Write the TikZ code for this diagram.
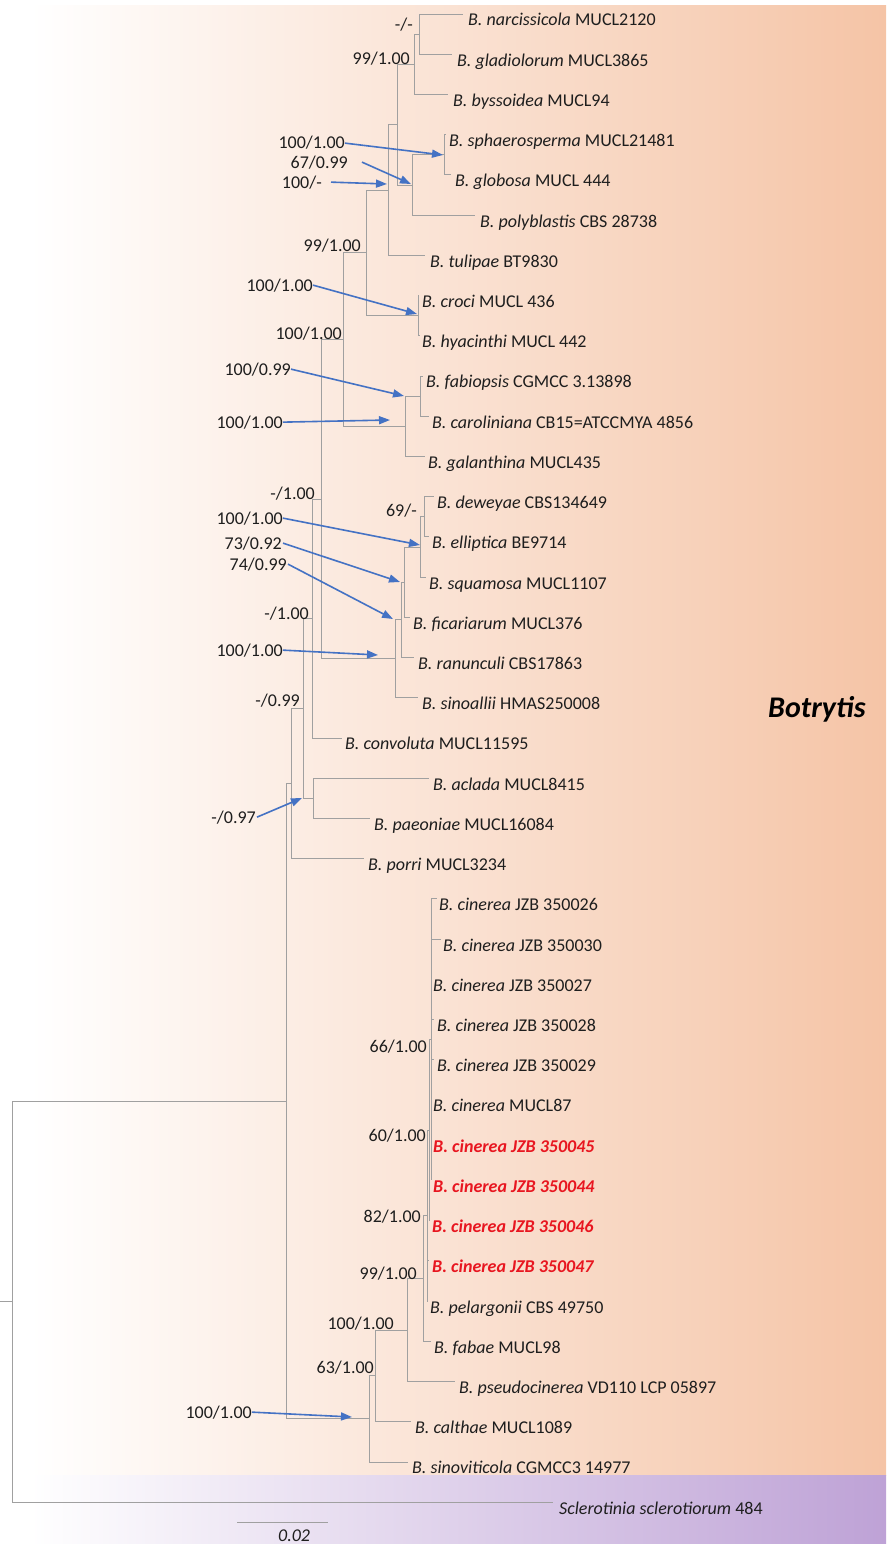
\documentclass[tikz,border=0pt]{standalone}
\usepackage{fontspec}
\setmainfont{Carlito}
\usetikzlibrary{arrows.meta}
\definecolor{peachR}{RGB}{245,196,166}
\definecolor{lilacR}{RGB}{190,162,214}
\definecolor{arrowblue}{RGB}{68,114,196}
\definecolor{treegray}{RGB}{160,160,160}
\definecolor{strainred}{RGB}{232,22,32}
\definecolor{inkgray}{RGB}{30,30,30}

% leaf: id, row index, branch tip x, label x, text
\newcommand\taxon[5]{%
  \coordinate (t#1) at (#3,{ly(#2)});
  \node[leaf] (l#1) at (#4,{ly(#2)+12}) {#5};
}
% elbow branches from an internal node to each of its children
\newcommand\clade[2]{\foreach \c in {#2} {\draw[br] (#1) |- (\c);}}
\newcommand\redstrain[1]{\textcolor{strainred}{\bfseries\itshape #1}}

\begin{document}
\begin{tikzpicture}[x=1pt,y=-1pt,
  declare function={ly(\i)=14+40.22*\i;},
  br/.style={draw=treegray, line width=0.8pt},
  leaf/.style={anchor=base west, inner sep=0pt, text=inkgray, font=\fontsize{18}{20}\selectfont},
  supp/.style={anchor=base east, inner sep=0pt, text=inkgray, font=\fontsize{18}{20}\selectfont},
  pointer/.style={draw=arrowblue, line width=1.6pt, -{Triangle[length=11pt,width=8pt]}},
]
\useasboundingbox (0,0) rectangle (886,1544);

% background bands
\fill[white] (0,0) rectangle (886,1544);
\shade[left color=white, right color=peachR] (30,6) rectangle (886,1475);
\shade[left color=white, right color=lilacR] (30,1475) rectangle (886,1544);

% taxa
\taxon{0}{0}{463}{468}{\textit{B. narcissicola} MUCL2120}
\taxon{1}{1}{452}{457}{\textit{B. gladiolorum} MUCL3865}
\taxon{2}{2}{448}{453}{\textit{B. byssoidea} MUCL94}
\taxon{3}{3}{446}{449}{\textit{B. sphaerosperma} MUCL21481}
\taxon{4}{4}{451}{455}{\textit{B. globosa} MUCL 444}
\taxon{5}{5}{475}{480}{\textit{B. polyblastis} CBS 28738}
\taxon{6}{6}{425}{430}{\textit{B. tulipae} BT9830}
\taxon{7}{7}{419}{422}{\textit{B. croci} MUCL 436}
\taxon{8}{8}{420}{422}{\textit{B. hyacinthi} MUCL 442}
\taxon{9}{9}{423}{426}{\textit{B. fabiopsis} CGMCC 3.13898}
\taxon{10}{10}{429}{432}{\textit{B. caroliniana} CB15=ATCCMYA 4856}
\taxon{11}{11}{425}{428}{\textit{B. galanthina} MUCL435}
\taxon{12}{12}{434}{437}{\textit{B. deweyae} CBS134649}
\taxon{13}{13}{429}{432}{\textit{B. elliptica} BE9714}
\taxon{14}{14}{426}{429}{\textit{B. squamosa} MUCL1107}
\taxon{15}{15}{410}{413}{\textit{B. ficariarum} MUCL376}
\taxon{16}{16}{414}{418}{\textit{B. ranunculi} CBS17863}
\taxon{17}{17}{418}{422}{\textit{B. sinoallii} HMAS250008}
\taxon{18}{18}{342}{345}{\textit{B. convoluta} MUCL11595}
\taxon{19}{19}{429}{433}{\textit{B. aclada} MUCL8415}
\taxon{20}{20}{370}{374}{\textit{B. paeoniae} MUCL16084}
\taxon{21}{21}{364}{368}{\textit{B. porri} MUCL3234}
\taxon{22}{22}{437}{439}{\textit{B. cinerea} JZB 350026}
\taxon{23}{23}{441}{443}{\textit{B. cinerea} JZB 350030}
\taxon{24}{24}{431}{433}{\textit{B. cinerea} JZB 350027}
\taxon{25}{25}{434}{437}{\textit{B. cinerea} JZB 350028}
\taxon{26}{26}{434}{437}{\textit{B. cinerea} JZB 350029}
\taxon{27}{27}{431}{433}{\textit{B. cinerea} MUCL87}
\taxon{28}{28}{431}{433}{\redstrain{B. cinerea JZB 350045}}
\taxon{29}{29}{431}{433}{\redstrain{B. cinerea JZB 350044}}
\taxon{30}{30}{430}{432}{\redstrain{B. cinerea JZB 350046}}
\taxon{31}{31}{429}{432}{\redstrain{B. cinerea JZB 350047}}
\taxon{32}{32}{428}{430}{\textit{B. pelargonii} CBS 49750}
\taxon{33}{33}{431}{434}{\textit{B. fabae} MUCL98}
\taxon{34}{34}{455}{459}{\textit{B. pseudocinerea} VD110 LCP 05897}
\taxon{35}{35}{411}{415}{\textit{B. calthae} MUCL1089}
\taxon{36}{36}{408}{412}{\textit{B. sinoviticola} CGMCC3 14977}
\taxon{37}{37}{553}{559}{\textit{Sclerotinia sclerotiorum} 484}

% internal nodes
\coordinate (nA) at (419,34.1);
\coordinate (nB) at (414,64.25);
\coordinate (nC) at (444,154.8);
\coordinate (nD) at (412,184.95);
\coordinate (nE) at (397,124.6);
\coordinate (nF) at (388,189.95);
\coordinate (nG) at (418,315.65);
\coordinate (nH) at (366,252.8);
\coordinate (nI) at (420,396.1);
\coordinate (nJ) at (405,426.25);
\coordinate (nK) at (343,339.5);
\coordinate (nL) at (424,516.75);
\coordinate (nM) at (420,546.9);
\coordinate (nN) at (404,582.1);
\coordinate (nO) at (401,619.8);
\coordinate (nP) at (395,658.75);
\coordinate (nQ) at (321,499.1);
\coordinate (nR) at (312,618.55);
\coordinate (nS) at (313,798.3);
\coordinate (nT) at (303,708.4);
\coordinate (nU) at (291,783.5);
\coordinate (nV) at (431,1039.6);
\coordinate (nW) at (429,1130.1);
\coordinate (nX) at (427,1215.55);
\coordinate (nY) at (423,1278.4);
\coordinate (nZ) at (407,1329.95);
\coordinate (nAA) at (375,1375.8);
\coordinate (nAB) at (369,1418.85);
\coordinate (nBot) at (286,1101.2);
\coordinate (root) at (12,1301.65);
\coordinate (stub) at (0,1301.65);

% branches
\clade{nA}{t0,t1}
\clade{nB}{nA,t2}
\clade{nC}{t3,t4}
\clade{nD}{nC,t5}
\clade{nE}{nB,nD}
\clade{nF}{nE,t6}
\clade{nG}{t7,t8}
\clade{nH}{nF,nG}
\clade{nI}{t9,t10}
\clade{nJ}{nI,t11}
\clade{nK}{nH,nJ}
\clade{nL}{t12,t13}
\clade{nM}{nL,t14}
\clade{nN}{nM,t15}
\clade{nO}{nN,t16}
\clade{nP}{nO,t17}
\clade{nQ}{nK,nP}
\clade{nR}{nQ,t18}
\clade{nS}{t19,t20}
\clade{nT}{nR,nS}
\clade{nU}{nT,t21}
\clade{nV}{t22,t23,t24,t25,t26,t27,t28,t29}
\clade{nW}{nV,t30}
\clade{nX}{nW,t31,t32}
\clade{nY}{nX,t33}
\clade{nZ}{nY,t34}
\clade{nAA}{nZ,t35}
\clade{nAB}{nAA,t36}
\clade{nBot}{nU,nAB}
\clade{root}{nBot,t37}
\draw[br] (stub) -- (root);

% support values
\node[supp] (sA) at (413,31) {-/-};
\node[supp] (sB) at (410,65) {99/1.00};
\node[supp] (sC) at (345,149) {100/1.00};
\node[supp] (sD) at (348,168) {67/0.99};
\node[supp] (sF) at (322,188) {100/-};
\node[supp] (sH) at (361,251) {99/1.00};
\node[supp] (sG) at (313,291) {100/1.00};
\node[supp] (sK) at (342,339) {100/1.00};
\node[supp] (sI) at (291,375) {100/0.99};
\node[supp] (sJ) at (283,428) {100/1.00};
\node[supp] (sQ) at (315,499) {-/1.00};
\node[supp] (sL) at (417,516) {69/-};
\node[supp] (sM) at (283,524) {100/1.00};
\node[supp] (sN) at (282,549) {73/0.92};
\node[supp] (sO) at (287,570) {74/0.99};
\node[supp] (sR) at (309,619) {-/1.00};
\node[supp] (sP) at (283,656) {100/1.00};
\node[supp] (sT) at (300,706) {-/0.99};
\node[supp] (sS) at (256,823) {-/0.97};
\node[supp] (sV) at (427,1052) {66/1.00};
\node[supp] (sW) at (426,1141) {60/1.00};
\node[supp] (sX) at (421,1222) {82/1.00};
\node[supp] (sY) at (417,1279) {99/1.00};
\node[supp] (sZ) at (394,1329) {100/1.00};
\node[supp] (sAA) at (374,1373) {63/1.00};
\node[supp] (sAB) at (252,1418) {100/1.00};

% pointers from support values to their nodes
\coordinate (aC) at (443,155);
\coordinate (aD) at (411,184);
\coordinate (aF) at (387,184);
\coordinate (aG) at (417,314);
\coordinate (aI) at (404,396);
\coordinate (aJ) at (390,420);
\coordinate (aM) at (420,545);
\coordinate (aN) at (400,582);
\coordinate (aO) at (393,619);
\coordinate (aP) at (378,655);
\coordinate (aS) at (302,798);
\coordinate (aAB) at (352,1417);
\draw[pointer] (sC.east) -- (aC);
\draw[pointer] ([xshift=14pt]sD.east) -- (aD);
\draw[pointer] ([xshift=9pt]sF.east) -- (aF);
\draw[pointer] (sG.east) -- (aG);
\draw[pointer] (sI.east) -- (aI);
\draw[pointer] (sJ.east) -- (aJ);
\draw[pointer] (sM.east) -- (aM);
\draw[pointer] ([xshift=1pt]sN.east) -- (aN);
\draw[pointer] ([xshift=1pt]sO.east) -- (aO);
\draw[pointer] (sP.east) -- (aP);
\draw[pointer] ([xshift=1pt]sS.east) -- (aS);
\draw[pointer] (sAB.east) -- (aAB);

% clade name
\node[anchor=base west, inner sep=0pt, text=black, font=\fontsize{30}{32}\selectfont\bfseries\itshape] (genus) at (768,717) {Botrytis};

% scale bar
\coordinate (sb1) at (237,1522);
\coordinate (sb2) at (328,1522);
\draw[br] (sb1) -- (sb2);
\node[leaf, font=\fontsize{18}{20}\selectfont\itshape] (sbl) at (278,1541) {0.02};
\end{tikzpicture}
\end{document}
